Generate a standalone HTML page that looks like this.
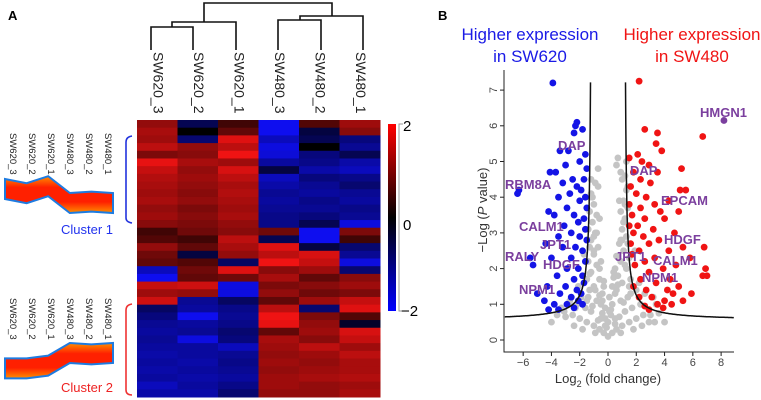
<!DOCTYPE html>
<html><head><meta charset="utf-8"><style>
body{margin:0;background:#fff;width:761px;height:400px;overflow:hidden;font-family:"Liberation Sans",sans-serif}
svg{position:absolute;left:0;top:0}
</style></head><body>
<svg id="fig" width="761" height="400">
<text x="8" y="20" font-size="13" font-weight="bold">A</text>
<text x="438" y="20" font-size="13" font-weight="bold">B</text>
<g stroke="#111" stroke-width="1.6" fill="none">
<path d="M204,22 V3 H332 V16"/>
<path d="M172,27 V22 H236 V50"/>
<path d="M151,50 V27 H193 V50"/>
<path d="M300,20 V16 H363 V50"/>
<path d="M278,50 V20 H321 V50"/>
</g>
<g id="collabels"></g>
<g id="heat"></g>
<defs>
<linearGradient id="cb" x1="0" y1="0" x2="0" y2="1"><stop offset="0" stop-color="#ff0000"/><stop offset="0.5" stop-color="#000"/><stop offset="1" stop-color="#0000ff"/></linearGradient>
<linearGradient id="rib" x1="0" y1="0" x2="0" y2="1"><stop offset="0" stop-color="#ff9000"/><stop offset="0.3" stop-color="#ff2000"/><stop offset="0.7" stop-color="#ff2000"/><stop offset="1" stop-color="#ff9000"/></linearGradient>
</defs>
<g>
<rect x="388" y="124" width="8" height="187" fill="url(#cb)"/>
<path d="M403,124 H399 V311 H403" stroke="#999" fill="none"/>
<text x="403" y="131" font-size="15">2</text>
<text x="403" y="230" font-size="15">0</text>
<text x="401" y="316" font-size="15">−2</text>
</g>
<g id="mini"></g>
<g><path d="M132,136 Q126,137 126,142 V218 Q126,222 132,223" stroke="#2233dd" stroke-width="1.6" fill="none"/>
<text x="113" y="234" font-size="13" fill="#2233ee" text-anchor="end">Cluster 1</text></g>
<g><path d="M132,304 Q126,305 126,310 V390 Q126,395 132,395" stroke="#ee3333" stroke-width="1.6" fill="none"/>
<text x="113" y="392" font-size="13" fill="#ee2222" text-anchor="end">Cluster 2</text></g>
<g id="volcano"></g>
</svg>
<script>
const NS="http://www.w3.org/2000/svg";
const samples=["SW620_3","SW620_2","SW620_1","SW480_3","SW480_2","SW480_1"];
const heatRows=[
[0.8,-0.3,0.2,-1.8,0.3,0.9],[1.0,0.0,0.4,-1.8,-0.2,0.7],[0.9,-0.5,1.6,-1.2,-0.3,-0.6],[1.2,0.8,1.2,-1.6,0.0,-0.8],
[0.6,0.7,1.8,-1.5,-0.6,-0.3],[1.7,1.0,0.9,-0.9,-0.7,-1.0],[1.3,0.8,1.5,-0.2,-1.0,-1.2],[1.1,0.9,1.2,-1.2,-0.6,-0.7],
[1.0,0.8,1.0,-1.0,-0.8,-0.5],[0.9,0.7,1.1,-0.8,-0.9,-0.8],[1.0,0.8,1.0,-0.9,-0.7,-0.9],[0.8,0.6,0.9,-0.8,-0.8,-0.7],
[0.9,0.7,1.0,-0.7,-0.6,-0.8],[0.7,0.6,0.8,-0.7,-0.3,-1.6],[0.2,0.5,0.7,0.5,-1.8,0.6],[0.3,0.2,1.2,-0.3,-1.8,0.2],
[0.8,0.4,1.0,1.6,-0.2,-0.5],[0.5,-0.2,0.8,1.2,1.5,-0.8],[0.4,0.3,-0.4,1.8,1.3,-1.6],[-1.2,0.5,1.6,0.7,0.9,-0.5],
[-1.8,0.4,0.5,1.0,0.4,0.7],[1.3,1.4,-1.6,0.6,0.7,0.9],[0.9,0.8,-1.6,0.8,0.5,0.6],[1.4,-0.8,-0.4,0.4,0.9,1.3],
[-0.4,-0.9,-0.7,1.2,-0.5,1.6],[-0.6,-1.8,-0.8,1.8,0.6,0.3],[-0.8,-0.9,-0.7,1.7,0.8,-0.1],[-0.9,-0.8,-0.5,0.4,0.9,1.5],
[-0.8,-1.6,-0.6,1.0,0.7,1.3],[-0.9,-0.9,-1.2,0.9,1.2,0.9],[-1.0,-0.9,-0.8,0.8,0.9,1.2],[-0.9,-1.0,-0.7,0.9,0.8,1.0],
[-1.0,-0.9,-0.8,0.8,0.9,1.0],[-0.9,-1.0,-0.9,0.9,1.0,1.1],[-1.2,-0.9,-0.7,0.9,0.8,0.9],[-1.0,-1.0,-0.5,0.8,0.8,1.0]];
const cluster1Profile=[0.5,0.2,0.7,-0.5,-0.4,-0.5];
const cluster2Profile=[-0.6,-0.6,-0.4,0.5,0.4,0.5];
const blueX=[-3.9,-2.3,-2.2,-1.8,-2.4,-3.4,-2.8,-1.6,-2.0,-3.0,-4.1,-3.7,-1.5,-2.5,-3.2,-1.7,-6.3,-6.4,-2.2,-1.9,-2.7,-3.5,-1.6,-2.0,-1.5,-2.9,-4.2,-3.8,-2.4,-1.7,-2.1,-3.1,-1.6,-2.6,-3.5,-2.0,-1.5,-4.4,-3.2,-2.3,-1.8,-5.5,-4.0,-2.6,-1.6,-5.3,-2.9,-2.1,-1.8,-3.6,-2.4,-1.7,-3.0,-4.3,-2.2,-5.0,-3.4,-1.9,-2.6,-4.5,-2.1,-3.8,-2.9,-4.2,-3.5,-2.4,-1.8];
const blueY=[7.2,6.0,6.1,5.9,5.8,5.3,5.3,5.2,5.0,4.9,4.7,4.7,4.8,4.5,4.4,4.5,4.2,4.1,4.3,4.2,4.1,4.0,4.0,3.9,3.7,3.7,3.6,3.5,3.5,3.4,3.3,3.2,3.1,3.0,2.9,2.9,2.8,2.7,2.6,2.6,2.5,2.3,2.3,2.3,2.2,2.1,2.0,2.0,1.8,1.8,1.7,1.6,1.5,1.5,1.4,1.3,1.3,1.3,1.2,1.1,1.1,1.0,1.0,0.85,0.85,0.9,1.0];
const redX=[2.2,2.6,3.5,6.7,3.4,3.8,2.1,1.5,2.4,2.9,5.2,3.5,1.8,2.3,3.0,1.6,5.5,5.1,2.0,2.7,4.3,1.5,3.3,2.3,5.0,3.7,1.7,2.6,4.0,1.5,2.1,3.2,4.7,1.8,2.5,3.6,1.6,2.9,5.3,6.8,4.3,2.2,1.7,3.3,5.8,2.6,4.8,1.9,6.9,3.9,2.9,6.7,7.0,4.4,2.3,3.4,5.0,1.8,4.2,2.7,4.6,5.9,3.1,2.2,4.0,5.3,3.5,2.6,3.9,2.9,4.5];
const redY=[7.25,5.9,5.8,5.7,5.5,5.3,5.2,5.1,5.0,4.9,4.8,4.7,4.7,4.5,4.4,4.3,4.2,4.2,4.1,4.0,3.9,3.8,3.8,3.7,3.6,3.6,3.5,3.4,3.4,3.2,3.2,3.1,3.0,3.0,2.9,2.8,2.7,2.7,2.6,2.6,2.5,2.5,2.4,2.3,2.3,2.2,2.1,2.1,2.0,2.0,1.9,1.8,1.8,1.7,1.7,1.6,1.5,1.5,1.4,1.4,1.3,1.3,1.2,1.2,1.1,1.1,1.0,0.95,0.9,0.85,1.0];
const grayX=[0,-0.3,0.3,-0.6,0.6,-1,1,-1.5,1.5,-2,2,-2.5,2.5,-3,3,-3.6,3.6,0,-0.5,0.5,-1.2,1.2,-0.2,0.3,-0.8,0.9,-1.4,1.4,-0.4,0.6,-1.0,1.0,-0.6,0.7,-1.2,1.3,-0.8,0.9,-1.0,1.1,-0.7,0.8,-1.2,1.3,-0.9,1.0,-1.1,1.2,-0.8,0.9,-1.0,1.1,-1.2,1.3,-0.9,1.0,-0.7,0.6,-0.2,0.2,-1.6,1.7,-2.2,2.3,-0.5,0.1,-1.3,1.5,-1.5,1.6,-0.3,0.4,-1.4,1.5,-1.3,1.4,-1.4,1.5,-1.3,1.4,-2.8,2.9,-3.3,3.3,-4,4,-1.8,1.8,-0.9,0.9,-2.4,2.4,
 -0.1,0.5,-0.7,0.8,-0.4,0.2,-1.1,1.1,-0.6,0.5,-0.9,0.7,-0.3,0.4,-1.3,1.2,-0.5,0.6,-1.0,0.9,-0.8,1.1,-0.6,0.8,-1.1,1.2,-0.7,0.9,-1.2,1.3,-1.5,1.6,-1.9,2.0,-2.3,2.6,-2.7,3.2,-3.1,3.4,-1.7,1.9,-2.1,2.2,-0.2,0.1,-0.4,0.3,0.5,-0.6,1.0,-1.0,1.2,1.4,-1.3,0.7];
const grayY=[0.1,0.2,0.2,0.3,0.3,0.4,0.4,0.5,0.5,0.6,0.6,0.7,0.7,0.65,0.7,0.7,0.75,0.5,0.6,0.6,0.8,0.8,0.9,1.0,1.1,1.1,1.2,1.2,1.3,1.4,1.5,1.6,1.7,1.8,1.9,2.0,2.1,2.2,2.4,2.5,2.6,2.7,2.8,2.9,3.0,3.1,3.3,3.4,3.5,3.6,3.8,3.9,4.1,4.2,4.4,4.5,4.8,4.9,0.4,0.7,0.9,0.9,1.0,1.0,1.0,1.2,1.4,1.5,1.7,1.7,1.5,1.9,2.2,2.3,2.6,2.7,3.1,3.2,3.6,3.7,1.0,0.5,0.9,0.5,0.5,0.5,0.3,0.3,0.2,0.2,0.4,0.4,
 0.35,0.45,0.55,0.65,0.75,0.85,0.95,1.05,1.25,1.3,1.4,1.55,1.65,1.75,1.85,2.1,2.2,2.35,2.5,2.8,3.0,3.3,3.4,3.9,4.0,4.6,4.3,4.7,4.5,5.0,1.1,1.3,1.2,1.4,0.9,1.3,1.1,1.2,0.8,1.0,2.4,2.5,1.5,1.6,0.6,0.8,1.1,1.5,2.0,2.0,2.8,2.9,3.8,4.3,4.0,5.1];
const xTicks=[-6,-4,-2,0,2,4,6,8];
const yTicks=[0,1,2,3,4,5,6,7];
const hmGenes=["HMGN1"];const hmX=[8.2];const hmY=[6.15];

function el(tag,attrs,parent){const e=document.createElementNS(NS,tag);for(const k in attrs)e.setAttribute(k,attrs[k]);parent.appendChild(e);return e;}
function col(v){const t=Math.max(-1,Math.min(1,v/2));const m=Math.pow(Math.abs(t),0.6);return t>=0?`rgb(${Math.round(255*m)},${Math.round(20*m)},${Math.round(20*m)})`:`rgb(${Math.round(15*m)},${Math.round(15*m)},${Math.round(255*m)})`;}

const heat=document.getElementById('heat');
const hx0=137,hx1=380,hy0=120,hy1=397;
const cw=(hx1-hx0)/samples.length, rh=(hy1-hy0)/heatRows.length;
heatRows.forEach((row,i)=>{row.forEach((v,j)=>{
 const r=el('rect',{x:hx0+j*cw,y:hy0+i*rh,width:cw+0.5,height:rh+0.5,fill:col(v)},heat);
 
 
});});
const cl=document.getElementById('collabels');
samples.forEach((s,j)=>{const x=hx0+(j+0.5)*cw-4;
 const t=el('text',{x:0,y:0,'font-size':'14',fill:'#222',transform:`translate(${x},52) rotate(90)`},cl);
 t.textContent=s;
 
 
});
const mini=document.getElementById('mini');
function drawProfile(prof,top,ry){
 samples.forEach((s,j)=>{const x=10+j*19;
  const t=el('text',{x:0,y:0,'font-size':'9.5',fill:'#222',transform:`translate(${x},${top}) rotate(90)`},mini);
  t.textContent=s;
  
  
 });
 const xs=samples.map((s,j)=>5+j*21.6);
 const up=xs.map((x,j)=>`${x},${ry-prof[j]*14-10}`).join(' ');
 const dn=xs.slice().reverse().map((x,k)=>{const j=xs.length-1-k;return `${x},${ry-prof[j]*14+10}`;}).join(' ');
 const p=el('polygon',{points:up+' '+dn,fill:'url(#rib)',stroke:'#1e7be0','stroke-width':'2'},mini);
 
 
}
drawProfile(cluster1Profile,133,196);
drawProfile(cluster2Profile,298,360);

const v=document.getElementById('volcano');
const X=d=>608+d*14.14, Y=d=>340-d*35.7;
el('path',{d:'M504,70 V352 H734',stroke:'#222',fill:'none','stroke-width':'1'},v);
xTicks.forEach(t=>{el('line',{x1:X(t),x2:X(t),y1:352,y2:356,stroke:'#222'},v);
 const tx=el('text',{x:X(t),y:366,'font-size':'11','text-anchor':'middle',fill:'#444'},v);tx.textContent=t<0?'−'+(-t):t;
 });
yTicks.forEach(t=>{el('line',{x1:500,x2:504,y1:Y(t),y2:Y(t),stroke:'#222'},v);
 const ty=el('text',{x:0,y:0,'font-size':'11','text-anchor':'middle',fill:'#444',transform:`translate(497,${Y(t)}) rotate(-90)`},v);ty.textContent=t;
 });
function dots(xs,ys,fill,name){xs.forEach((x,i)=>{const c=el('circle',{cx:X(x),cy:Y(ys[i]),r:3.4,fill:fill},v);
 
 });}
dots(grayX,grayY,'#c4c4c4','gray-point');
dots(blueX,blueY,'#1414e6','blue-point');
dots(redX,redY,'#f01414','red-point');
dots(hmX,hmY,'#7b3f9e','labeled-point');
function curve(sign){let d='';for(let a=1.22;a<=(sign>0?8.9:7.3);a+=0.02){const yy=0.55+0.6/(a-1.15);if(yy>7.55)continue;const px=X(sign*a),py=Y(yy);d+=(d?'L':'M')+px.toFixed(1)+','+py.toFixed(1);}return d;}
const c1=el('path',{d:curve(-1),stroke:'#111','stroke-width':'1.5',fill:'none'},v);

const c2=el('path',{d:curve(1),stroke:'#111','stroke-width':'1.5',fill:'none'},v);

</script>
<svg width="761" height="400" style="pointer-events:none">
<g font-size="13" font-weight="bold" fill="#7b3f9e">
<text x="558" y="150">DAP</text><text x="505" y="189">RBM8A</text><text x="519" y="231">CALM1</text>
<text x="540" y="249">JPT1</text><text x="505" y="261">RALY</text><text x="543" y="269">HDGF</text>
<text x="519" y="294">NPM1</text><text x="700" y="117">HMGN1</text><text x="630" y="175">DAP</text>
<text x="661" y="205">EPCAM</text><text x="664" y="244">HDGF</text><text x="615" y="261">JPT1</text>
<text x="653" y="265">CALM1</text><text x="642" y="282">NPM1</text>
</g>
<g font-size="17" text-anchor="middle">
<text x="530" y="40" fill="#1a1ae6">Higher expression</text>
<text x="530" y="62" fill="#1a1ae6">in SW620</text>
<text x="692" y="40" fill="#f01414">Higher expression</text>
<text x="692" y="62" fill="#f01414">in SW480</text>
</g>
<text x="608" y="383" font-size="13" text-anchor="middle" fill="#333">Log<tspan font-size="9" dy="4">2</tspan><tspan dy="-4"> (fold change)</tspan></text>
<text transform="translate(487,210) rotate(-90)" font-size="13" text-anchor="middle" fill="#333">−Log (<tspan font-style="italic">P</tspan> value)</text>
</svg>
</body></html>
